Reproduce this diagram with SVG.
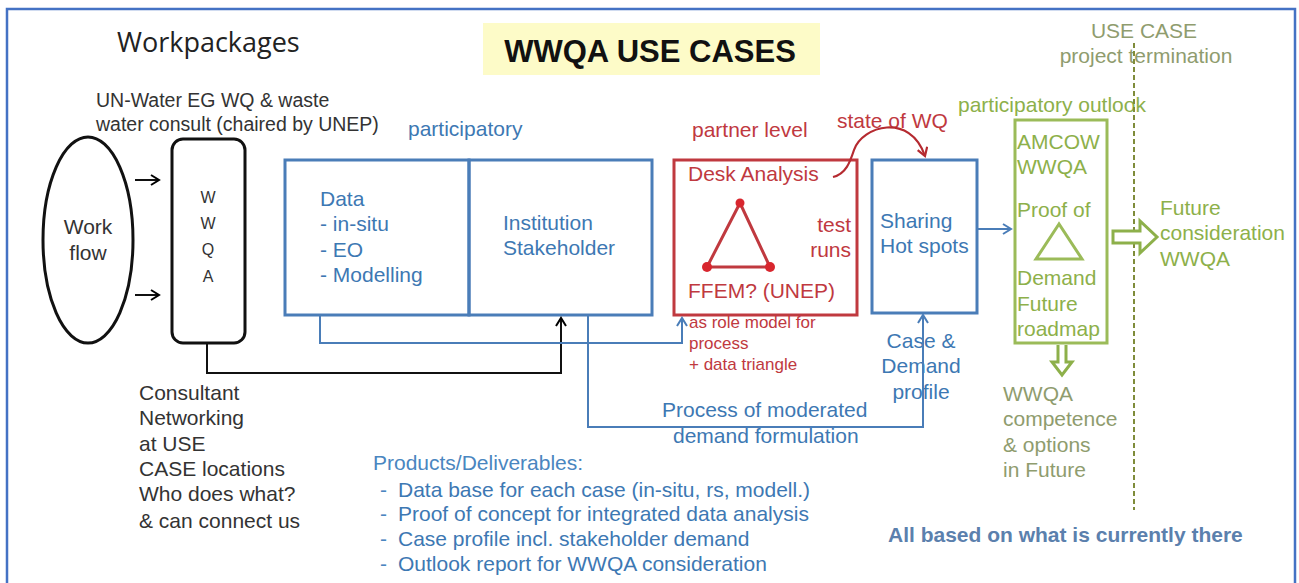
<svg xmlns="http://www.w3.org/2000/svg" width="1299" height="583" viewBox="0 0 1299 583">
<defs>
<style>
text{font-family:"Liberation Sans",Arial,sans-serif;}
.dk{fill:#333333;font-size:21px;}
.bl{fill:#3d78b3;font-size:21px;}
.rd{fill:#c0393f;font-size:21px;}
.rs{fill:#c0393f;font-size:17px;}
.gr{fill:#8db04a;font-size:21px;}
.ol{fill:#8f9c6e;font-size:21px;}
.bbox{fill:none;stroke:#4a7db8;stroke-width:3;}
.ln{fill:none;stroke-width:2;}
</style>
<marker id="ab" viewBox="0 0 12 12" refX="10" refY="6" markerWidth="12" markerHeight="12" markerUnits="userSpaceOnUse" orient="auto"><path d="M2,1 L10,6 L2,11" fill="none" stroke="#000" stroke-width="2"/></marker>
<marker id="abl" viewBox="0 0 12 12" refX="10" refY="6" markerWidth="12" markerHeight="12" markerUnits="userSpaceOnUse" orient="auto"><path d="M2,1 L10,6 L2,11" fill="none" stroke="#4a7db8" stroke-width="2"/></marker>
<marker id="ar" viewBox="0 0 12 12" refX="10" refY="6" markerWidth="12" markerHeight="12" markerUnits="userSpaceOnUse" orient="auto"><path d="M2,1 L10,6 L2,11" fill="none" stroke="#b52a30" stroke-width="2.2"/></marker>
</defs>
<rect x="0" y="0" width="1299" height="583" fill="#ffffff"/>
<path d="M7,600 V9 H1295 V600" fill="none" stroke="#4472c4" stroke-width="2.5"/>

<g id="title">
<rect x="483" y="23" width="337" height="52" fill="#fdfbc8"/>
<text x="650" y="62" text-anchor="middle" style="font-size:31px;font-weight:bold;fill:#111">WWQA USE CASES</text>
</g>
<text x="117" y="52" style="font-family:'Open Sans','Liberation Sans',sans-serif;font-size:27px;fill:#222">Workpackages</text>
<text class="dk" x="96" y="107" style="font-size:19.5px">UN-Water EG WQ &amp; waste</text>
<text class="dk" x="96" y="131" style="font-size:19.5px">water consult (chaired by UNEP)</text>

<g id="workflow">
<ellipse cx="88" cy="240" rx="45" ry="103" fill="none" stroke="#111" stroke-width="3"/>
<text class="dk" x="88" y="234" text-anchor="middle">Work</text>
<text class="dk" x="88" y="260" text-anchor="middle">flow</text>
</g>

<g id="wwqa">
<rect x="172" y="139" width="73" height="204" rx="11" fill="none" stroke="#111" stroke-width="3"/>
<text class="dk" x="208" y="203" text-anchor="middle" style="font-size:16px">W</text>
<text class="dk" x="208" y="229" text-anchor="middle" style="font-size:16px">W</text>
<text class="dk" x="208" y="255" text-anchor="middle" style="font-size:16px">Q</text>
<text class="dk" x="208" y="282" text-anchor="middle" style="font-size:16px">A</text>
</g>

<text class="bl" x="408" y="136">participatory</text>

<g id="data">
<rect class="bbox" x="285" y="160" width="184" height="155"/>
<text class="bl" x="320" y="206">Data</text>
<text class="bl" x="320" y="231">- in-situ</text>
<text class="bl" x="320" y="257">- EO</text>
<text class="bl" x="320" y="282">- Modelling</text>
</g>

<g id="institution">
<rect class="bbox" x="469" y="160" width="183" height="155"/>
<text class="bl" x="503" y="230">Institution</text>
<text class="bl" x="503" y="255">Stakeholder</text>
</g>

<g id="desk">
<text class="rd" x="692" y="137">partner level</text>
<rect x="674" y="160" width="183" height="155" fill="none" stroke="#c0393f" stroke-width="3"/>
<text class="rd" x="688" y="181">Desk Analysis</text>
<path d="M740,203 L707,267 L770,267 Z" fill="none" stroke="#c0393f" stroke-width="3"/>
<circle cx="740" cy="203" r="4.5" fill="#d8262e"/>
<circle cx="707" cy="267" r="5" fill="#d8262e"/>
<circle cx="770" cy="267" r="5" fill="#d8262e"/>
<text class="rd" x="851" y="232" text-anchor="end">test</text>
<text class="rd" x="851" y="257" text-anchor="end">runs</text>
<text class="rd" x="688" y="298">FFEM? (UNEP)</text>
<text class="rs" x="689" y="328">as role model for</text>
<text class="rs" x="689" y="349">process</text>
<text class="rs" x="689" y="370">+ data triangle</text>
</g>

<text class="rd" x="837" y="128">state of WQ</text>

<g id="sharing">
<rect class="bbox" x="872" y="160" width="105" height="153"/>
<text class="bl" x="880" y="228">Sharing</text>
<text class="bl" x="880" y="253">Hot spots</text>
<text class="bl" x="921" y="348" text-anchor="middle">Case &amp;</text>
<text class="bl" x="921" y="373" text-anchor="middle">Demand</text>
<text class="bl" x="921" y="399" text-anchor="middle">profile</text>
</g>

<g id="outlook">
<text class="gr" x="958" y="112">participatory outlook</text>
<rect x="1015" y="120" width="92" height="223" fill="none" stroke="#9bbb59" stroke-width="3"/>
<text class="gr" x="1017" y="149">AMCOW</text>
<text class="gr" x="1017" y="174">WWQA</text>
<text class="gr" x="1017" y="217">Proof of</text>
<path d="M1059,224 L1036,259 L1082,259 Z" fill="none" stroke="#9bbb59" stroke-width="3"/>
<text class="gr" x="1017" y="285">Demand</text>
<text class="gr" x="1017" y="311">Future</text>
<text class="gr" x="1017" y="336">roadmap</text>
</g>

<g id="competence">
<text class="ol" x="1003" y="401">WWQA</text>
<text class="ol" x="1003" y="426">competence</text>
<text class="ol" x="1003" y="452">&amp; options</text>
<text class="ol" x="1003" y="477">in Future</text>
</g>

<g id="termination">
<text class="ol" x="1144" y="38" text-anchor="middle">USE CASE</text>
<text class="ol" x="1146" y="63" text-anchor="middle">project termination</text>
<line x1="1134" y1="43" x2="1134" y2="510" stroke="#7f8c3a" stroke-width="2" stroke-dasharray="5,3"/>
</g>

<g id="future">
<text class="gr" x="1160" y="215">Future</text>
<text class="gr" x="1160" y="240">consideration</text>
<text class="gr" x="1160" y="266">WWQA</text>
</g>

<g id="consultant">
<text class="dk" x="139" y="400">Consultant</text>
<text class="dk" x="139" y="425">Networking</text>
<text class="dk" x="139" y="451">at USE</text>
<text class="dk" x="139" y="476">CASE locations</text>
<text class="dk" x="139" y="501">Who does what?</text>
<text class="dk" x="139" y="528">&amp; can connect us</text>
</g>

<g id="process">
<text class="bl" x="662" y="417">Process of moderated</text>
<text class="bl" x="673" y="443">demand formulation</text>
</g>

<g id="products" style="font-size:21px">
<text x="373" y="470" style="fill:#4a86c0;font-size:21px">Products/Deliverables:</text>
<text x="380" y="497" style="fill:#4a86c0;font-size:21px">-</text><text x="398" y="497" style="fill:#3d78b3;font-size:21px">Data base for each case (in-situ, rs, modell.)</text>
<text x="380" y="521" style="fill:#4a86c0;font-size:21px">-</text><text x="398" y="521" style="fill:#3d78b3;font-size:21px">Proof of concept for integrated data analysis</text>
<text x="380" y="546" style="fill:#4a86c0;font-size:21px">-</text><text x="398" y="546" style="fill:#3d78b3;font-size:21px">Case profile incl. stakeholder demand</text>
<text x="380" y="571" style="fill:#4a86c0;font-size:21px">-</text><text x="398" y="571" style="fill:#3d78b3;font-size:21px">Outlook report for WWQA consideration</text>
</g>

<text x="888" y="542" style="font-size:21px;font-weight:bold;fill:#5b80ad">All based on what is currently there</text>

<g id="connectors">
<line class="ln" x1="135" y1="180" x2="159" y2="180" stroke="#111" marker-end="url(#ab)"/>
<line class="ln" x1="135" y1="295" x2="159" y2="295" stroke="#111" marker-end="url(#ab)"/>
<path class="ln" d="M207,344 V373 H561 V318" stroke="#111" marker-end="url(#ab)"/>
<path class="ln" d="M320,315 V343 H682 V318" stroke="#4a7db8" marker-end="url(#abl)"/>
<path class="ln" d="M588,315 V427 H923 V315" stroke="#4a7db8" marker-end="url(#abl)"/>
<line class="ln" x1="978" y1="229" x2="1011" y2="229" stroke="#4a7db8" marker-end="url(#abl)"/>
<path d="M833,177 C846,174 850,162 854,150 C862,126 910,112 925,156" fill="none" stroke="#b52a30" stroke-width="2.2" marker-end="url(#ar)"/>
<path d="M1113,231 H1140 V221 L1157,237 L1140,253 V243 H1113 Z" fill="#ffffff" stroke="#8db04a" stroke-width="3"/>
<path d="M1058,345 V362 H1052 L1062,375 L1072,362 H1066 V345" fill="#ffffff" stroke="#8db04a" stroke-width="3"/>
</g>
</svg>
